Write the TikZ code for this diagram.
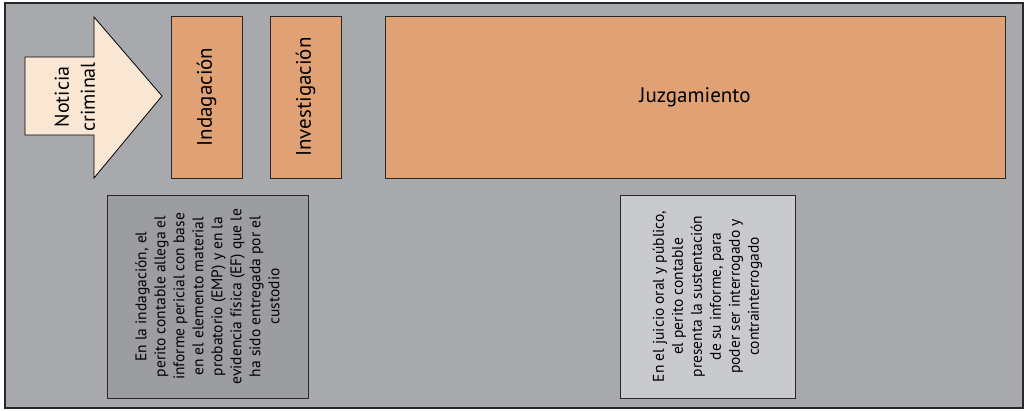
\documentclass[tikz,border=0pt]{standalone}
\usepackage{fontspec}
\setmainfont{PT Sans}
\usepackage{tikz}
\usetikzlibrary{calc}
\usetikzlibrary{positioning}
\definecolor{fondo}{RGB}{168,169,173}
\definecolor{naranja}{RGB}{224,162,116}
\definecolor{crema}{RGB}{249,230,211}
\definecolor{grisosc}{RGB}{156,157,161}
\definecolor{grisclaro}{RGB}{201,202,205}
\definecolor{borde}{RGB}{40,40,40}
\tikzstyle{etapa} = [rectangle, draw=borde, fill=naranja, line width=1pt, font=\fontsize{21}{25}\selectfont]
\tikzstyle{nota} = [rectangle, draw=borde, line width=1pt, rotate=90, align=center, font=\fontsize{15.5}{19}\selectfont]

\begin{document}
\begin{tikzpicture}[x=1pt, y=-1pt]
\useasboundingbox (0,0) rectangle (1025,410);
\fill [white] (0,0) rectangle (1025,410);
\draw [fill=fondo, draw=borde, line width=1.5pt] (5,3) rectangle (1023,408);
\draw [fill=crema, draw=black, line width=0.8pt] (25,57) -- (94,57) -- (94,17) -- (162,96) -- (94,178) -- (94,135) -- (25,135) -- cycle;
\node [rotate=90, align=center, font=\fontsize{20}{26}\selectfont] (NC) at (75,97) {Noticia\\criminal};
\node [etapa, rotate=90, minimum width=162pt, minimum height=71pt] (Indag) at (206.5,97) {Indagación};
\node [etapa, rotate=90, minimum width=162pt, minimum height=71pt] (Invest) at (305.5,97) {Investigación};
\node [etapa, minimum width=620pt, minimum height=162pt] (Juzg) at (695,97) {Juzgamiento};
\node [nota, fill=grisosc, minimum width=203pt, minimum height=201pt] (NotaIndag) at (207.5,296.5) {En la indagación, el\\perito contable allega el\\informe pericial con base\\en el elemento material\\probatorio (EMP) y en la\\evidencia física (EF) que le\\ha sido entregada por el\\custodio};
\node [nota, fill=grisclaro, minimum width=203pt, minimum height=175pt] (NotaJuzg) at (707.5,296.5) {En el juicio oral y público,\\el perito contable\\presenta la sustentación\\de su informe, para\\poder ser interrogado y\\contrainterrogado};
\end{tikzpicture}
\end{document}
